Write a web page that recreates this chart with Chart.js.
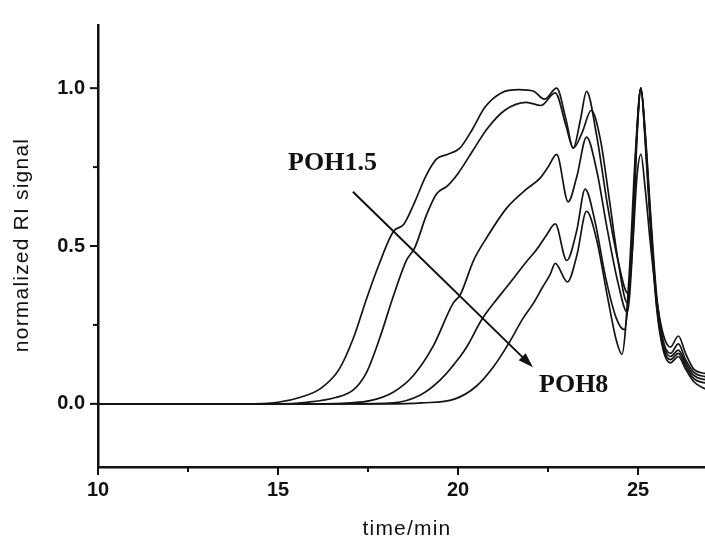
<!DOCTYPE html>
<html>
<head>
<meta charset="utf-8">
<title>normalized RI signal</title>
<script src="https://cdn.jsdelivr.net/npm/chart.js@4/dist/chart.umd.min.js"></script>
<style>
  html, body { margin: 0; padding: 0; background: #fff; }
  #riChart { display: block; }
</style>
</head>
<body>
<canvas id="riChart" width="705" height="537"></canvas>
<script>
// =========================================================================
// 1. DATA
// =========================================================================
// time/min and normalized RI signal for each curve, POH1.5 -> POH8
const timeA = [10, 14, 15.0, 15.6, 16.2, 16.7, 17.1, 17.45, 17.8, 18.2, 18.5, 18.8, 19.1, 19.4, 19.7, 20.05, 20.4, 20.75, 21.2, 21.7, 22.1, 22.4, 22.74, 23.0, 23.2, 23.4, 23.57, 23.85, 24.15, 24.45, 24.72, 24.85, 24.97, 25.08, 25.2, 25.35, 25.52, 25.7, 25.9, 26.12, 26.32, 26.55, 26.9];
const sigA  = [0, 0, 0.005, 0.02, 0.05, 0.11, 0.21, 0.33, 0.44, 0.545, 0.57, 0.64, 0.72, 0.775, 0.79, 0.81, 0.87, 0.94, 0.985, 0.995, 0.99, 0.965, 1.0, 0.9, 0.81, 0.9, 0.99, 0.85, 0.63, 0.45, 0.35, 0.5, 0.72, 0.79, 0.68, 0.5, 0.33, 0.22, 0.18, 0.215, 0.16, 0.11, 0.095];

const timeB = [10, 15, 15.8, 16.6, 17.1, 17.46, 17.83, 18.2, 18.57, 18.8, 19.13, 19.4, 19.7, 20.0, 20.4, 20.8, 21.3, 21.9, 22.3, 22.7, 23.0, 23.2, 23.45, 23.7, 23.95, 24.2, 24.45, 24.7, 24.85, 24.97, 25.08, 25.2, 25.35, 25.52, 25.7, 25.9, 26.12, 26.32, 26.55, 26.9];
const sigB  = [0, 0, 0.005, 0.02, 0.045, 0.10, 0.21, 0.34, 0.455, 0.495, 0.6, 0.665, 0.69, 0.73, 0.80, 0.87, 0.93, 0.955, 0.945, 0.985, 0.88, 0.81, 0.86, 0.93, 0.84, 0.65, 0.45, 0.32, 0.55, 0.86, 1.0, 0.86, 0.6, 0.34, 0.2, 0.16, 0.19, 0.14, 0.1, 0.085];

const timeC = [10, 16, 17.0, 17.56, 18.2, 18.76, 19.31, 19.87, 20.06, 20.43, 20.8, 21.35, 21.9, 22.28, 22.5, 22.74, 23.06, 23.3, 23.57, 23.85, 24.15, 24.45, 24.7, 24.85, 24.97, 25.08, 25.2, 25.35, 25.52, 25.7, 25.9, 26.12, 26.32, 26.55, 26.9];
const sigC  = [0, 0, 0.003, 0.01, 0.037, 0.09, 0.183, 0.32, 0.345, 0.454, 0.527, 0.62, 0.68, 0.715, 0.75, 0.79, 0.64, 0.72, 0.845, 0.74, 0.55, 0.38, 0.29, 0.5, 0.84, 1.0, 0.85, 0.58, 0.32, 0.19, 0.15, 0.17, 0.13, 0.09, 0.075];

const timeD = [10, 17, 18.2, 18.94, 19.5, 20.06, 20.24, 20.66, 21.0, 21.35, 21.9, 22.19, 22.46, 22.7, 23.02, 23.3, 23.53, 23.8, 24.1, 24.4, 24.62, 24.8, 24.95, 25.08, 25.2, 25.35, 25.52, 25.7, 25.9, 26.12, 26.32, 26.55, 26.9];
const sigD  = [0, 0, 0.003, 0.027, 0.075, 0.15, 0.18, 0.267, 0.32, 0.37, 0.45, 0.49, 0.535, 0.57, 0.454, 0.55, 0.68, 0.58, 0.4, 0.27, 0.235, 0.45, 0.82, 1.0, 0.84, 0.57, 0.31, 0.18, 0.14, 0.16, 0.12, 0.08, 0.065];

const timeE = [10, 18, 19.0, 19.9, 20.5, 21.0, 21.4, 21.8, 22.1, 22.35, 22.56, 22.7, 23.04, 23.3, 23.57, 23.85, 24.15, 24.4, 24.55, 24.75, 24.93, 25.08, 25.2, 25.35, 25.52, 25.7, 25.9, 26.12, 26.32, 26.55, 26.9];
const sigE  = [0, 0, 0.003, 0.015, 0.055, 0.12, 0.19, 0.27, 0.32, 0.37, 0.41, 0.445, 0.386, 0.47, 0.61, 0.52, 0.34, 0.2, 0.157, 0.4, 0.8, 1.0, 0.83, 0.55, 0.3, 0.17, 0.13, 0.15, 0.11, 0.07, 0.045];

// axis ticks (major ones get a label)
const xTicks = [10, 12.5, 15, 17.5, 20, 22.5, 25];
const xLabels = [10, 15, 20, 25];
const yTicks = [0, 0.25, 0.5, 0.75, 1.0];
const yLabels = [0, 0.5, 1.0];

const xTitle = "time/min";
const yTitle = "normalized RI signal";

// =========================================================================
// 2. HELPERS
// =========================================================================
function toPoints(xs, ys) {
  return xs.map((x, i) => ({ x: x, y: ys[i] }));
}

function curve(xs, ys) {
  return {
    data: toPoints(xs, ys),
    borderColor: "#141414",
    borderWidth: 1.7,
    pointRadius: 0,
    fill: false,
    cubicInterpolationMode: "monotone",
  };
}

// annotations placed in data units (text left / baseline)
const notes = [
  { text: "POH1.5", x: 15.28, y: 0.742 },
  { text: "POH8", x: 22.25, y: 0.0375 },
];
const arrowFrom = { x: 17.08, y: 0.672 };
const arrowTo = { x: 22.08, y: 0.116 };

// =========================================================================
// 3. PLUGIN: tick marks, axis titles, labels + arrow
// =========================================================================
const extrasPlugin = {
  id: "extras",
  afterDraw(chart) {
    const ctx = chart.ctx;
    const xs = chart.scales.x;
    const ys = chart.scales.y;
    const area = chart.chartArea;

    ctx.save();
    ctx.strokeStyle = "#111";
    ctx.lineWidth = 2;

    // tick marks pointing outward
    xTicks.forEach((v) => {
      const px = xs.getPixelForValue(v);
      const len = xLabels.includes(v) ? 8 : 5;
      ctx.beginPath();
      ctx.moveTo(px, area.bottom);
      ctx.lineTo(px, area.bottom + len);
      ctx.stroke();
    });
    yTicks.forEach((v) => {
      const py = ys.getPixelForValue(v);
      const len = yLabels.includes(v) ? 8 : 5;
      ctx.beginPath();
      ctx.moveTo(area.left - len, py);
      ctx.lineTo(area.left, py);
      ctx.stroke();
    });

    // axis titles
    ctx.fillStyle = "#111";
    ctx.font = "21px 'Liberation Sans', Arial, sans-serif";
    ctx.letterSpacing = "1.2px";
    ctx.textAlign = "center";
    ctx.textBaseline = "alphabetic";
    ctx.fillText(xTitle, 407, 535);

    ctx.save();
    ctx.translate(28, 245);
    ctx.rotate(-Math.PI / 2);
    ctx.fillText(yTitle, 0, 0);
    ctx.restore();
    ctx.letterSpacing = "0px";

    // sample labels
    ctx.font = "bold 26px 'Liberation Serif', 'Times New Roman', serif";
    ctx.textAlign = "left";
    notes.forEach((n) => {
      ctx.fillText(n.text, xs.getPixelForValue(n.x), ys.getPixelForValue(n.y));
    });

    // arrow POH1.5 -> POH8
    const x1 = xs.getPixelForValue(arrowFrom.x);
    const y1 = ys.getPixelForValue(arrowFrom.y);
    const x2 = xs.getPixelForValue(arrowTo.x);
    const y2 = ys.getPixelForValue(arrowTo.y);
    const ang = Math.atan2(y2 - y1, x2 - x1);
    const head = 15;
    ctx.lineWidth = 2;
    ctx.beginPath();
    ctx.moveTo(x1, y1);
    ctx.lineTo(x2 - Math.cos(ang) * head * 0.8, y2 - Math.sin(ang) * head * 0.8);
    ctx.stroke();
    ctx.beginPath();
    ctx.moveTo(x2, y2);
    ctx.lineTo(x2 - head * Math.cos(ang) + 5 * Math.sin(ang), y2 - head * Math.sin(ang) - 5 * Math.cos(ang));
    ctx.lineTo(x2 - head * Math.cos(ang) - 5 * Math.sin(ang), y2 - head * Math.sin(ang) + 5 * Math.cos(ang));
    ctx.closePath();
    ctx.fill();

    ctx.restore();
  },
};

// =========================================================================
// 4. CHART
// =========================================================================
const tickFont = { family: "'Liberation Sans', Arial, sans-serif", size: 20, weight: "bold" };

const riChart = new Chart(document.getElementById("riChart").getContext("2d"), {
  type: "line",
  data: {
    datasets: [
      curve(timeA, sigA),
      curve(timeB, sigB),
      curve(timeC, sigC),
      curve(timeD, sigD),
      curve(timeE, sigE),
    ],
  },
  options: {
    responsive: false,
    animation: false,
    devicePixelRatio: 1,
    layout: { padding: { top: 18, right: 0, bottom: 0, left: 0 } },
    plugins: { legend: { display: false }, tooltip: { enabled: false } },
    scales: {
      x: {
        type: "linear",
        min: 10,
        max: 26.86,
        afterFit: (s) => { s.height = 70; },
        afterBuildTicks: (s) => { s.ticks = xTicks.map((v) => ({ value: v })); },
        grid: { display: false, drawTicks: false },
        border: { display: true, color: "#111", width: 2.5 },
        ticks: {
          autoSkip: false,
          maxRotation: 0,
          padding: 11,
          color: "#111",
          font: tickFont,
          callback: (v) => (xLabels.includes(v) ? String(v) : ""),
        },
      },
      y: {
        type: "linear",
        min: -0.2,
        max: 1.2,
        afterFit: (s) => { s.width = 98; },
        afterBuildTicks: (s) => { s.ticks = yTicks.map((v) => ({ value: v })); },
        grid: { display: false, drawTicks: false },
        border: { display: true, color: "#111", width: 2.5 },
        ticks: {
          padding: 13,
          color: "#111",
          font: tickFont,
          callback: (v) => (yLabels.includes(v) ? v.toFixed(1) : ""),
        },
      },
    },
  },
  plugins: [extrasPlugin],
});
</script>
</body>
</html>
